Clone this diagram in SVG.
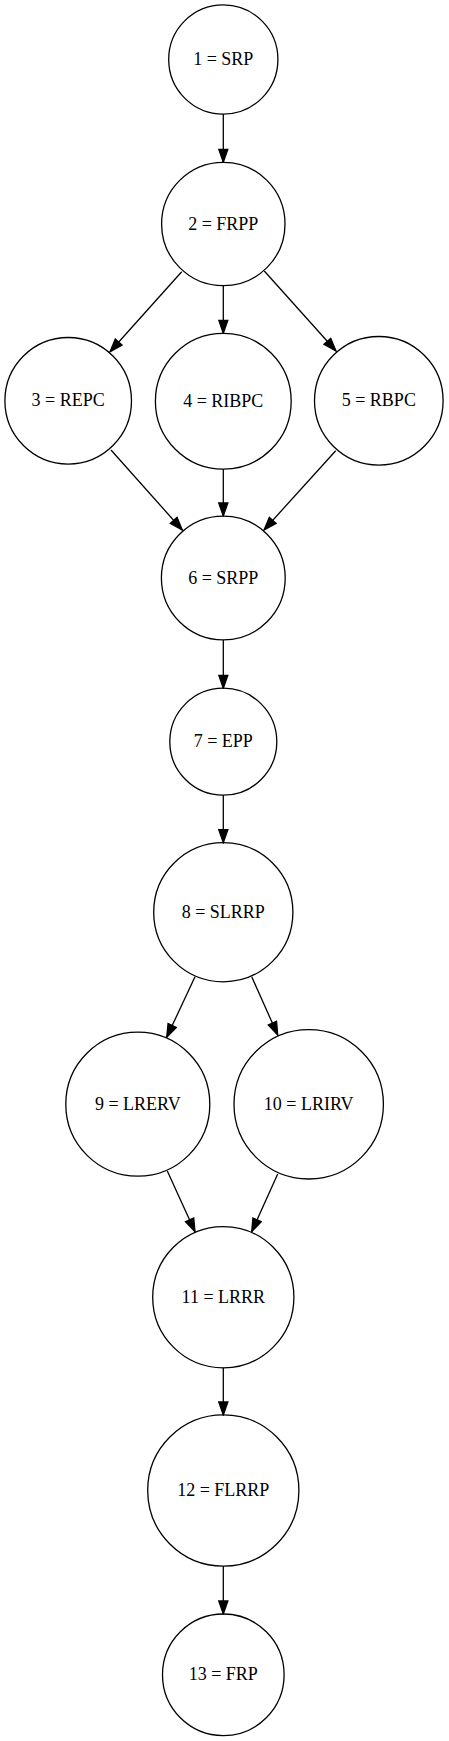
<svg xmlns="http://www.w3.org/2000/svg" width="449" height="1741" viewBox="0 0 449 1741">
<style>
.node circle{fill:none;stroke:#000;stroke-width:1.3}
.node text{font-family:"Liberation Serif","Times New Roman",serif;font-size:18px;text-anchor:middle;fill:#000}
.edges line{stroke:#000;stroke-width:1.3;marker-end:url(#arr)}
</style>
<defs>
<marker id="arr" markerUnits="userSpaceOnUse" viewBox="-1 -1 15 11.1" refX="13" refY="4.55" markerWidth="15" markerHeight="11.1" orient="auto">
<path d="M0,0 L13,4.55 L0,9.1 Z" fill="#000" stroke="#000" stroke-width="1.3"/>
</marker>
</defs>
<rect width="449" height="1741" fill="#fff"/>
<g class="edges">
<line x1="223.3" y1="114" x2="223.3" y2="162.3"/>
<line x1="181.7" y1="271.7" x2="110" y2="351.7"/>
<line x1="223.3" y1="285.7" x2="223.3" y2="333.3"/>
<line x1="264.3" y1="271" x2="336" y2="351"/>
<line x1="111" y1="450" x2="182.3" y2="530"/>
<line x1="223.3" y1="469" x2="223.3" y2="516"/>
<line x1="335.7" y1="450.7" x2="264" y2="530"/>
<line x1="223.3" y1="640" x2="223.3" y2="688.3"/>
<line x1="223.3" y1="795" x2="223.3" y2="842.7"/>
<line x1="195" y1="976.7" x2="166.7" y2="1037.3"/>
<line x1="251.7" y1="976.7" x2="277.7" y2="1035"/>
<line x1="167.3" y1="1171" x2="195" y2="1231.7"/>
<line x1="277.7" y1="1174" x2="251.7" y2="1231.7"/>
<line x1="223.3" y1="1367.7" x2="223.3" y2="1415"/>
<line x1="223.3" y1="1566" x2="223.3" y2="1614"/>
</g>
<g id="n1" class="node"><circle cx="223.3" cy="59.5" r="54.6"/><text x="223.3" y="65">1 = SRP</text></g>
<g id="n2" class="node"><circle cx="223.3" cy="224" r="61.7"/><text x="223.3" y="229.5">2 = FRPP</text></g>
<g id="n3" class="node"><circle cx="68.2" cy="400.8" r="63.3"/><text x="68.2" y="406.3">3 = REPC</text></g>
<g id="n4" class="node"><circle cx="223.3" cy="401.2" r="67.9"/><text x="223.3" y="406.7">4 = RIBPC</text></g>
<g id="n5" class="node"><circle cx="378.8" cy="400.8" r="64.3"/><text x="378.8" y="406.3">5 = RBPC</text></g>
<g id="n6" class="node"><circle cx="223.3" cy="578" r="61.9"/><text x="223.3" y="583.5">6 = SRPP</text></g>
<g id="n7" class="node"><circle cx="223.3" cy="741.7" r="53.5"/><text x="223.3" y="747.2">7 = EPP</text></g>
<g id="n8" class="node"><circle cx="223.3" cy="912.2" r="69.6"/><text x="223.3" y="917.7">8 = SLRRP</text></g>
<g id="n9" class="node"><circle cx="137.8" cy="1104.2" r="72"/><text x="137.8" y="1109.7">9 = LRERV</text></g>
<g id="n10" class="node"><circle cx="308.7" cy="1104.3" r="74.7"/><text x="308.7" y="1109.8">10 = LRIRV</text></g>
<g id="n11" class="node"><circle cx="223.3" cy="1297.2" r="70.6"/><text x="223.3" y="1302.7">11 = LRRR</text></g>
<g id="n12" class="node"><circle cx="223.3" cy="1490.5" r="75.6"/><text x="223.3" y="1496">12 = FLRRP</text></g>
<g id="n13" class="node"><circle cx="223.3" cy="1674.8" r="60.8"/><text x="223.3" y="1680.3">13 = FRP</text></g>
</svg>
